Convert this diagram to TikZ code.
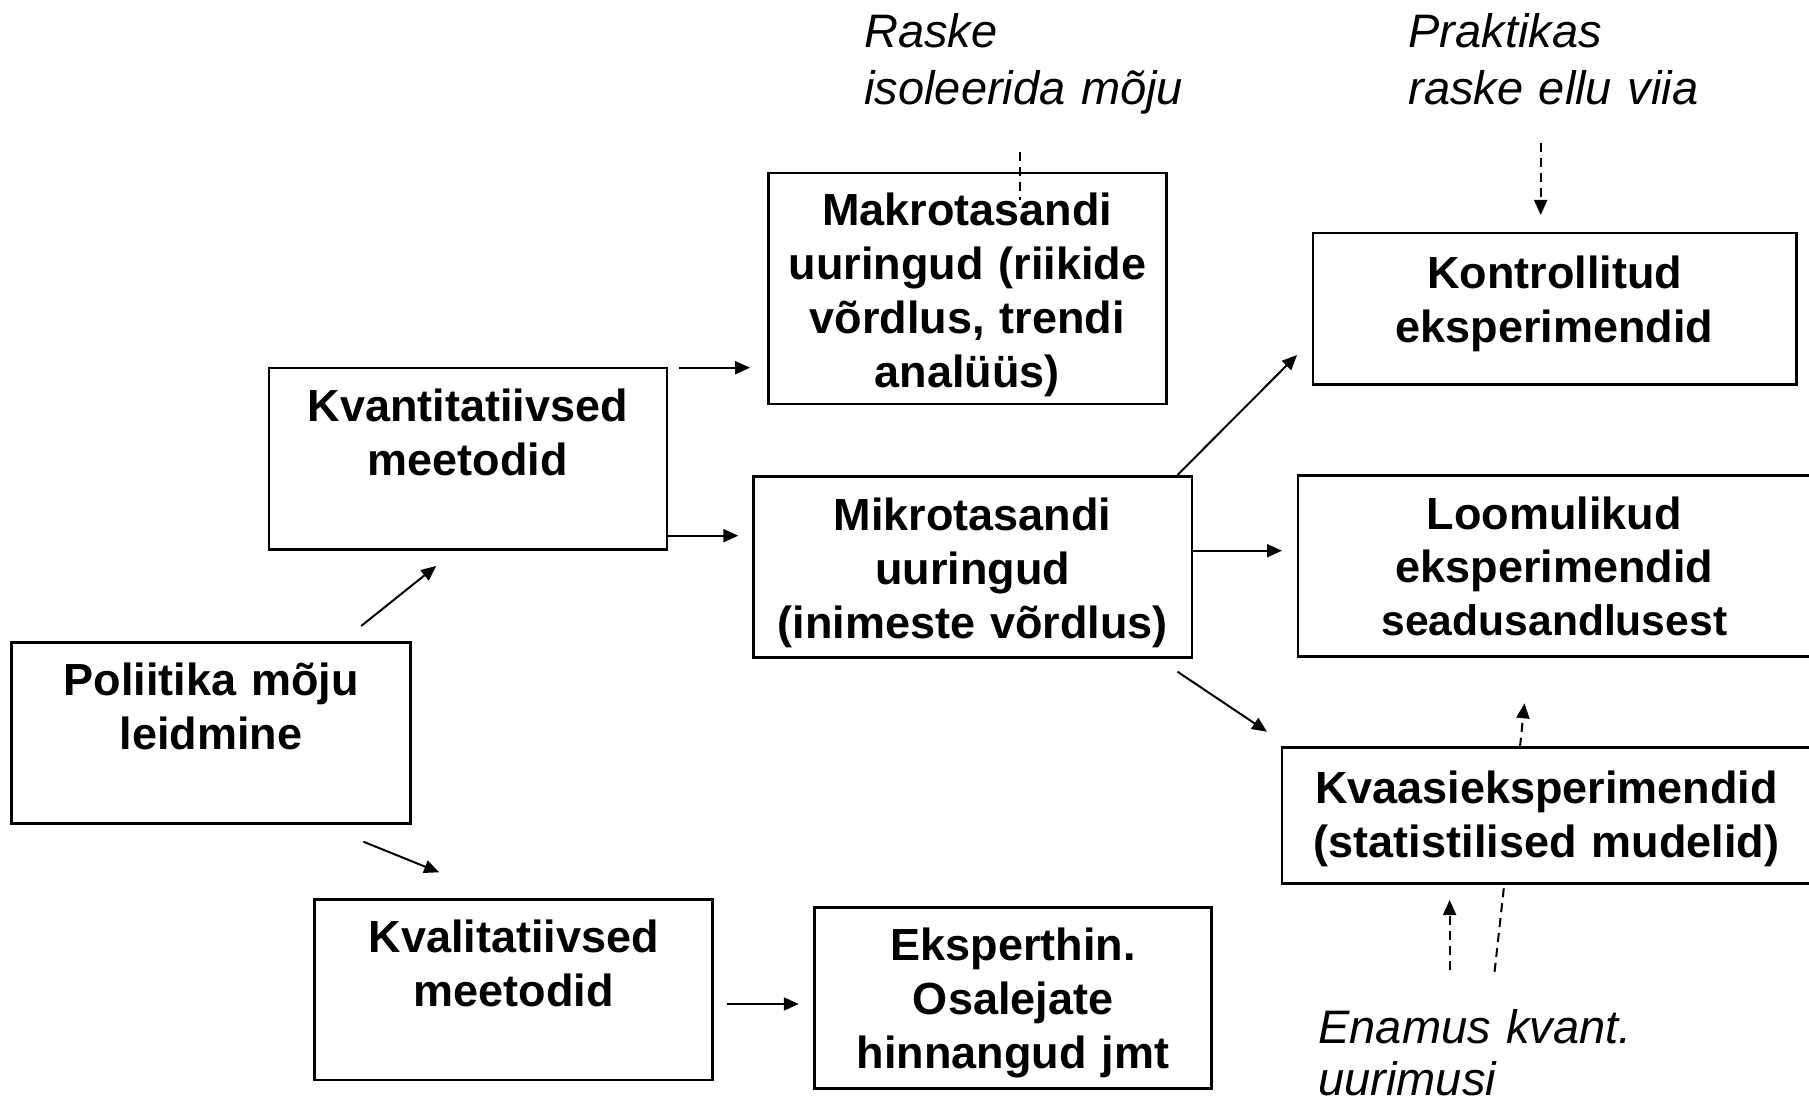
\documentclass[tikz,border=0pt]{standalone}
\usepackage{fontspec}
\setmainfont{Liberation Sans}
\usetikzlibrary{arrows.meta}
\tikzset{
  box/.style={draw, line width=1.3pt, inner sep=0pt, align=center, anchor=base,
    font=\fontsize{22.5}{27}\selectfont\bfseries},
  note/.style={inner sep=0pt, align=left, anchor=base west, text width=220pt,
    font=\fontsize{23.5}{28.4}\selectfont\itshape},
  arr/.style={line width=1pt, -{Triangle[length=7.5pt,width=6.5pt]}},
  darr/.style={arr, dash pattern=on 4.5pt off 3pt},
  dline/.style={line width=1pt, dash pattern=on 4.5pt off 3pt},
}
\begin{document}
\begin{tikzpicture}[x=0.5pt, y=-0.5pt]
\useasboundingbox (0,0) rectangle (1809,1107);
\fill[white] (0,0) rectangle (1809,1107);
\clip (0,0) rectangle (1809,1107);

% boxes
\node[box, text width=199.6pt, text height=26.45pt, text depth=63.85pt] (pol) at (211.1,695.5) {Poliitika mõju\\leidmine};
\node[box, text width=199pt, text height=26.85pt, text depth=63.75pt] (kvant) at (467.8,421.7) {Kvantitatiivsed\\meetodid};
\node[box, text width=199pt, text height=26.45pt, text depth=88.9pt] (makro) at (967.4,226) {Makrotasandi\\uuringud (riikide\\võrdlus, trendi\\analüüs)};
\node[box, text width=219.2pt, text height=26.9pt, text depth=63.65pt] (mikro) at (972.6,530.3) {Mikrotasandi\\uuringud\\(inimeste võrdlus)};
\node[box, text width=241.7pt, text height=28pt, text depth=47.6pt] (kontroll) at (1554.6,289) {Kontrollitud\\eksperimendid};
\node[box, text width=256.6pt, text height=26.65pt, text depth=63.85pt, font=\fontsize{22.5}{26.5}\selectfont\bfseries] (loom) at (1554.4,529) {Loomulikud\\eksperimendid\\{\fontsize{21.3}{26.5}\selectfont seadusandlusest}};
\node[box, text width=264.5pt, text height=27.65pt, text depth=40.15pt] (kvaasi) at (1546.5,803) {Kvaasieksperimendid\\(statistilised mudelid)};
\node[box, text width=198.95pt, text height=26.5pt, text depth=63.85pt] (kvalit) at (513.65,952.3) {Kvalitatiivsed\\meetodid};
\node[box, text width=198.35pt, text height=26.35pt, text depth=64.15pt] (ekspert) at (1013.05,960) {Eksperthin.\\Osalejate\\hinnangud jmt};

% notes
\node[note] (raske) at (864,47.3) {Raske\\isoleerida mõju};
\node[note] (prakt) at (1408,47.3) {Praktikas\\raske ellu viia};
\node[note, font=\fontsize{23.5}{26}\selectfont\itshape] (enamus) at (1318,1043) {Enamus kvant.\\uurimusi};

% connector ends
\coordinate (a1s) at (361.2,626);   \coordinate (a1e) at (436.2,566);
\coordinate (a2s) at (363.4,841.7); \coordinate (a2e) at (439.1,872.3);
\coordinate (a3s) at (678.6,367.7); \coordinate (a3e) at (750,367.7);
\coordinate (a4s) at (667.3,535.7); \coordinate (a4e) at (738.3,535.7);
\coordinate (a5s) at (1177.5,475);  \coordinate (a5e) at (1297,355);
\coordinate (a6s) at (1192,550.7);  \coordinate (a6e) at (1282,550.7);
\coordinate (a7s) at (1177.5,671.7);\coordinate (a7e) at (1267,731.7);
\coordinate (a8s) at (726.6,1004);  \coordinate (a8e) at (798.8,1004);
\coordinate (d1s) at (1020.2,151.7);\coordinate (d1e) at (1020.2,200);
\coordinate (d2s) at (1540.7,143.3);\coordinate (d2e) at (1540.7,215);
\coordinate (d3s) at (1520,746.7);  \coordinate (d3e) at (1524.5,703.3);
\coordinate (d4s) at (1449.6,970);  \coordinate (d4e) at (1449.6,900);
\coordinate (d5s) at (1503.8,888.3);\coordinate (d5e) at (1494.2,975);

% connectors
\draw[arr] (a1s) -- (a1e);
\draw[arr] (a2s) -- (a2e);
\draw[arr] (a3s) -- (a3e);
\draw[arr] (a4s) -- (a4e);
\draw[arr] (a5s) -- (a5e);
\draw[arr] (a6s) -- (a6e);
\draw[arr] (a7s) -- (a7e);
\draw[arr] (a8s) -- (a8e);
\draw[dline] (d1s) -- (d1e);
\draw[darr] (d2s) -- (d2e);
\draw[darr] (d3s) -- (d3e);
\draw[darr] (d4s) -- (d4e);
\draw[dline] (d5s) -- (d5e);
\end{tikzpicture}
\end{document}
